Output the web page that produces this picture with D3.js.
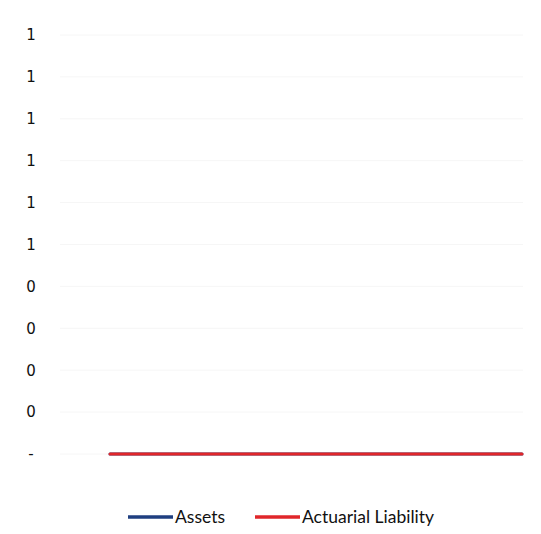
<!DOCTYPE html>
<html>
<head>
<meta charset="utf-8">
<script src="https://cdn.jsdelivr.net/npm/d3@7"></script>
<style>
  body { margin: 0; background: #fff; }
  svg { display: block; }
</style>
</head>
<body>
<svg width="541" height="534"></svg>
<script>
// data: both series sit on zero, axis runs 0..1
const categories = ['1', '2', '3', '4', '5', '6', '7', '8', '9', '10'];
const assets = [0, 0, 0, 0, 0, 0, 0, 0, 0, 0];
const liability = [0, 0, 0, 0, 0, 0, 0, 0, 0, 0];
const tickValues = [0, 0.1, 0.2, 0.3, 0.4, 0.5, 0.6, 0.7, 0.8, 0.9, 1.0];
const tickLabels = ['-', '0', '0', '0', '0', '1', '1', '1', '1', '1', '1'];
const seriesNames = ['Assets', 'Actuarial Liability'];
const seriesColors = ['#1f3f80', '#e0262a'];

const svg = d3.select('svg');
const width = +svg.attr('width');
const height = +svg.attr('height');

const margin = { top: 35, right: 18, bottom: 80, left: 60 };
const innerWidth = width - margin.left - margin.right;
const innerHeight = height - margin.top - margin.bottom;

const xScale = d3.scalePoint()
    .domain(categories)
    .range([50, innerWidth - 1]);

const yScale = d3.scaleLinear()
    .domain([0, 1])
    .range([innerHeight, 0]);

const g = svg.append('g')
    .attr('transform', `translate(${margin.left},${margin.top})`);

// faint gridlines (the scan barely shows them)
g.append('g')
    .selectAll('line')
    .data(tickValues)
    .enter()
    .append('line')
    .attr('x1', 0)
    .attr('x2', innerWidth)
    .attr('y1', d => yScale(d))
    .attr('y2', d => yScale(d))
    .attr('stroke', '#f6f6f6')
    .attr('stroke-width', 1);

const yAxis = d3.axisLeft(yScale)
    .tickValues(tickValues)
    .tickFormat((d, i) => tickLabels[i])
    .tickSize(0)
    .tickPadding(24);

const yAxisG = g.append('g').call(yAxis);
yAxisG.select('.domain').remove();
yAxisG.selectAll('text')
    .style('font-family', 'DejaVu Sans')
    .style('font-size', '15px')
    .attr('fill', '#111')
    .style('text-anchor', 'middle')
    .attr('x', -29);

const series = [assets, liability];
const line = d3.line()
    .x((d, i) => xScale(categories[i]))
    .y(d => yScale(d));

series.forEach((values, k) => {
    g.append('path')
        .datum(values)
        .attr('fill', 'none')
        .attr('stroke', seriesColors[k])
        .attr('stroke-width', 3)
        .attr('stroke-linecap', 'round')
        .attr('d', line);
});

// legend
const legend = svg.append('g')
    .attr('transform', `translate(128,517)`);
const legendX = [0, 127];
seriesNames.forEach((name, k) => {
    const item = legend.append('g')
        .attr('transform', `translate(${legendX[k]},0)`);
    item.append('line')
        .attr('x1', 0)
        .attr('x2', 45)
        .attr('y1', 0)
        .attr('y2', 0)
        .attr('stroke', seriesColors[k])
        .attr('stroke-width', 3.5);
    item.append('text')
        .attr('x', 47)
        .attr('y', 6)
        .style('font-family', 'Lato')
        .style('font-size', '17.5px')
        .attr('fill', '#111')
        .text(name);
});
</script>
</body>
</html>
